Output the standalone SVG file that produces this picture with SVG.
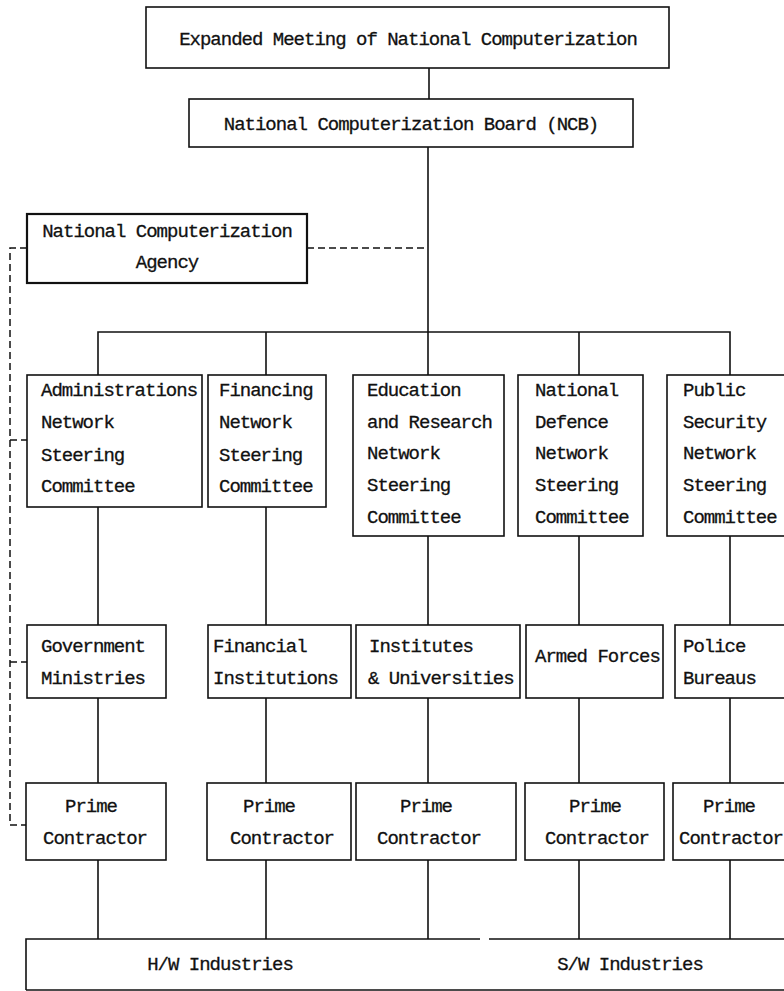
<svg xmlns="http://www.w3.org/2000/svg" width="784" height="991" viewBox="0 0 784 991">
<style>
.box{fill:#fff;stroke:#111;stroke-width:1.6}
.ln{fill:none;stroke:#111;stroke-width:1.6}
.dash{fill:none;stroke:#111;stroke-width:1.5;stroke-dasharray:7 4}
text{font-family:"Liberation Mono","DejaVu Sans Mono",monospace;font-size:19px;letter-spacing:-1px;fill:#111;stroke:#111;stroke-width:0.3}
.c{text-anchor:middle}
</style>
<rect width="784" height="991" fill="#fff"/>
<g id="connectors">
<path class="ln" d="M429,68 V99"/>
<path class="ln" d="M428,147 V332"/>
<path class="dash" d="M307,248 H428"/>
<path class="dash" d="M27,248 H10 V825 H26 M10,440 H27 M10,662 H27"/>
<path class="ln" d="M98,375 V332 H730 V375 M266,332 V375 M428,332 V375 M579,332 V375"/>
<path class="ln" d="M98,507 V625 M266,507 V625 M428,536 V625 M579,536 V625 M730,536 V625"/>
<path class="ln" d="M98,698 V783 M266,698 V783 M428,698 V783 M579,698 V783 M730,698 V783"/>
<path class="ln" d="M98,860 V939 M266,860 V939 M428,860 V939 M579,860 V939 M730,860 V939"/>
</g>
<g id="expanded-meeting">
<rect class="box" x="146" y="7" width="523" height="61"/>
<text class="c" x="408" y="45">Expanded Meeting of National Computerization</text>
</g>
<g id="ncb">
<rect class="box" x="189" y="99" width="444" height="48"/>
<text class="c" x="411" y="130">National Computerization Board (NCB)</text>
</g>
<g id="agency">
<rect class="box" x="27" y="214" width="280" height="69" style="stroke-width:2.2"/>
<text class="c" x="167" y="237">National Computerization</text>
<text class="c" x="167" y="268">Agency</text>
</g>
<g id="admin-committee">
<rect class="box" x="27" y="375" width="175" height="132"/>
<text x="41" y="396">Administrations</text>
<text x="41" y="428">Network</text>
<text x="41" y="461">Steering</text>
<text x="41" y="492">Committee</text>
</g>
<g id="financing-committee">
<rect class="box" x="208" y="375" width="118" height="132"/>
<text x="219" y="396">Financing</text>
<text x="219" y="428">Network</text>
<text x="219" y="461">Steering</text>
<text x="219" y="492">Committee</text>
</g>
<g id="education-committee">
<rect class="box" x="353" y="375" width="151" height="161"/>
<text x="367" y="396">Education</text>
<text x="367" y="428">and Research</text>
<text x="367" y="459">Network</text>
<text x="367" y="491">Steering</text>
<text x="367" y="523">Committee</text>
</g>
<g id="defence-committee">
<rect class="box" x="518" y="375" width="125" height="161"/>
<text x="535" y="396">National</text>
<text x="535" y="428">Defence</text>
<text x="535" y="459">Network</text>
<text x="535" y="491">Steering</text>
<text x="535" y="523">Committee</text>
</g>
<g id="security-committee">
<rect class="box" x="667" y="375" width="125" height="161"/>
<text x="683" y="396">Public</text>
<text x="683" y="428">Security</text>
<text x="683" y="459">Network</text>
<text x="683" y="491">Steering</text>
<text x="683" y="523">Committee</text>
</g>
<g id="government-ministries">
<rect class="box" x="27" y="625" width="139" height="73"/>
<text x="41" y="652">Government</text>
<text x="41" y="684">Ministries</text>
</g>
<g id="financial-institutions">
<rect class="box" x="208" y="625" width="143" height="73"/>
<text x="213" y="652">Financial</text>
<text x="213" y="684">Institutions</text>
</g>
<g id="institutes-universities">
<rect class="box" x="356" y="625" width="164" height="73"/>
<text x="369" y="652">Institutes</text>
<text x="368" y="684">&amp; Universities</text>
</g>
<g id="armed-forces">
<rect class="box" x="526" y="625" width="137" height="73"/>
<text x="535" y="662">Armed Forces</text>
</g>
<g id="police-bureaus">
<rect class="box" x="675" y="625" width="117" height="73"/>
<text x="683" y="652">Police</text>
<text x="683" y="684">Bureaus</text>
</g>
<g id="prime-1">
<rect class="box" x="26" y="783" width="140" height="77"/>
<text class="c" x="91" y="812">Prime</text>
<text class="c" x="95" y="844">Contractor</text>
</g>
<g id="prime-2">
<rect class="box" x="207" y="783" width="144" height="77"/>
<text class="c" x="269" y="812">Prime</text>
<text class="c" x="282" y="844">Contractor</text>
</g>
<g id="prime-3">
<rect class="box" x="356" y="783" width="160" height="77"/>
<text class="c" x="426" y="812">Prime</text>
<text class="c" x="429" y="844">Contractor</text>
</g>
<g id="prime-4">
<rect class="box" x="525" y="783" width="139" height="77"/>
<text class="c" x="595" y="812">Prime</text>
<text class="c" x="597" y="844">Contractor</text>
</g>
<g id="prime-5">
<rect class="box" x="673" y="783" width="119" height="77"/>
<text class="c" x="729" y="812">Prime</text>
<text class="c" x="731" y="844">Contractor</text>
</g>
<g id="industries">
<path class="ln" d="M26,990 V939 H480 M489,939 H790 M26,990 H790"/>
<text class="c" x="220" y="970">H/W Industries</text>
<text class="c" x="630" y="970">S/W Industries</text>
</g>
</svg>
